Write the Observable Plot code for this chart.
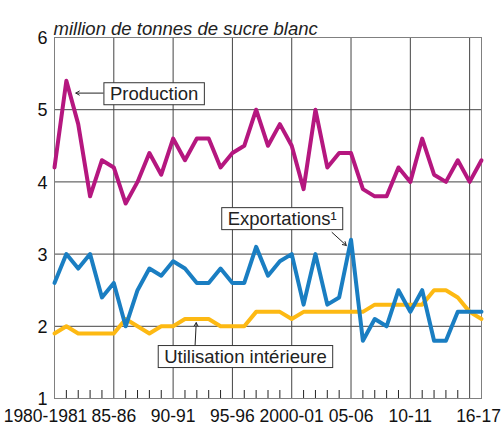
<!DOCTYPE html>
<html><head><meta charset="utf-8">
<script src="https://cdn.jsdelivr.net/npm/d3@7"></script>
<script src="https://cdn.jsdelivr.net/npm/@observablehq/plot@0.6"></script>
<style>
html,body{margin:0;padding:0;background:#fff;}
</style>
</head><body>
<div id="chart"></div>
<script>
const years = [1980,1981,1982,1983,1984,1985,1986,1987,1988,1989,1990,1991,1992,1993,1994,1995,1996,1997,1998,1999,2000,2001,2002,2003,2004,2005,2006,2007,2008,2009,2010,2011,2012,2013,2014,2015,2016];
const production   = [4.2,5.4,4.8,3.8,4.3,4.2,3.7,4.0,4.4,4.1,4.6,4.3,4.6,4.6,4.2,4.4,4.5,5.0,4.5,4.8,4.5,3.9,5.0,4.2,4.4,4.4,3.9,3.8,3.8,4.2,4.0,4.6,4.1,4.0,4.3,4.0,4.3];
const exportations = [2.6,3.0,2.8,3.0,2.4,2.6,2.0,2.5,2.8,2.7,2.9,2.8,2.6,2.6,2.8,2.6,2.6,3.1,2.7,2.9,3.0,2.3,3.0,2.3,2.4,3.2,1.8,2.1,2.0,2.5,2.2,2.5,1.8,1.8,2.2,2.2,2.2];
const utilisation  = [1.9,2.0,1.9,1.9,1.9,1.9,2.1,2.0,1.9,2.0,2.0,2.1,2.1,2.1,2.0,2.0,2.0,2.2,2.2,2.2,2.1,2.2,2.2,2.2,2.2,2.2,2.2,2.3,2.3,2.3,2.3,2.3,2.5,2.5,2.4,2.2,2.1];

const tickYears  = [1980,1985,1990,1995,2000,2005,2010,2016];
const tickLabels = ["1980-1981","85-86","90-91","95-96","2000-01","05-06","10-11","16-17"];
const gridYears  = [1985,1990,1995,2000,2005,2010,2015];
const gridValues = [2,3,4,5];
const yTicks     = [1,2,3,4,5,6];
const title = "million de tonnes de sucre blanc";

const labelText = ["Production","Exportations\u00B9","Utilisation int\u00E9rieure"];
const labelX    = [1988.4, 1999.2, 1996.1];
const labelY    = [5.22, 3.49, 1.58];
const arrowX1   = [1984.1, 2003.4, 1991.85];
const arrowY1   = [5.23, 3.30, 1.73];
const arrowX2   = [1981.8, 2004.6, 1991.95];
const arrowY2   = [5.23, 3.12, 2.05];

const colProduction = "#b5177f";
const colExport = "#1a7ec2";
const colUtil = "#fdb913";

const labelMap = new Map(tickYears.map((y, i) => [y, tickLabels[i]]));
const minorYears = years.filter(y => y % 5 !== 0 && y < 2015);
const labels = labelText.map((t, i) => ({t, x: labelX[i], y: labelY[i]}));
const arrows = arrowX1.map((d, i) => ({x1: arrowX1[i], y1: arrowY1[i], x2: arrowX2[i], y2: arrowY2[i]}));

const font = "'Liberation Sans', Arial, sans-serif";
const xFont = 17.5;

const chart = Plot.plot({
  width: 501, height: 432,
  marginLeft: 54, marginRight: 20, marginTop: 37, marginBottom: 34,
  style: {fontFamily: font, fontSize: "18px", background: "#fff", color: "#111"},
  x: {domain: [1980, 2016]},
  y: {domain: [1, 6]},
  marks: [
    Plot.gridX(gridYears, {stroke: "#444", strokeOpacity: 1}),
    Plot.gridY(gridValues, {stroke: "#444", strokeOpacity: 1}),
    Plot.frame({stroke: "#808080"}),
    Plot.axisX(minorYears, {tickSize: 8, dy: -8, tickFormat: () => "", label: null, stroke: "#222"}),
    Plot.lineY(utilisation, {x: years, stroke: colUtil, strokeWidth: 4}),
    Plot.lineY(exportations, {x: years, stroke: colExport, strokeWidth: 4}),
    Plot.lineY(production, {x: years, stroke: colProduction, strokeWidth: 4}),
    Plot.arrow(arrows, {x1: "x1", y1: "y1", x2: "x2", y2: "y2", stroke: "#222", strokeWidth: 1, headLength: 6}),
    Plot.text(labels, {x: "x", y: "y", text: "t", fontSize: 18.5, fill: "#222"}),
    Plot.axisY(yTicks, {tickSize: 0, tickPadding: 7, fontSize: 18, dy: 1, tickFormat: d3.format("d"), label: null, fill: "#111"}),
    Plot.axisX([1980], {tickSize: 0, tickPadding: 11, fontSize: xFont, dx: -9, tickFormat: d => labelMap.get(d), label: null, fill: "#111"}),
    Plot.axisX(tickYears.slice(1, -1), {tickSize: 0, tickPadding: 11, fontSize: xFont, tickFormat: d => labelMap.get(d), label: null, fill: "#111"}),
    Plot.axisX(tickYears.slice(-1), {tickSize: 0, tickPadding: 11, fontSize: xFont, dx: -3, tickFormat: d => labelMap.get(d), label: null, fill: "#111"}),
    Plot.text([title], {frameAnchor: "top-left", text: d => d, dx: -1, dy: -16, fontSize: 18.5, fontStyle: "italic", fill: "#222", textAnchor: "start"})
  ]
});
document.getElementById("chart").appendChild(chart);

// white boxes with a thin border behind the annotation labels (sized from the rendered text)
const ns = "http://www.w3.org/2000/svg";
chart.querySelectorAll("text").forEach(t => {
  if (!labelText.includes(t.textContent)) return;
  const b = t.getBBox();
  const r = document.createElementNS(ns, "rect");
  const tf = t.getAttribute("transform");
  if (tf) r.setAttribute("transform", tf);
  r.setAttribute("x", b.x - 6);
  r.setAttribute("y", b.y);
  r.setAttribute("width", b.width + 12);
  r.setAttribute("height", b.height + 1);
  r.setAttribute("fill", "#fff");
  r.setAttribute("stroke", "#333");
  r.setAttribute("stroke-width", 1);
  t.parentNode.insertBefore(r, t);
});
</script>
</body></html>
